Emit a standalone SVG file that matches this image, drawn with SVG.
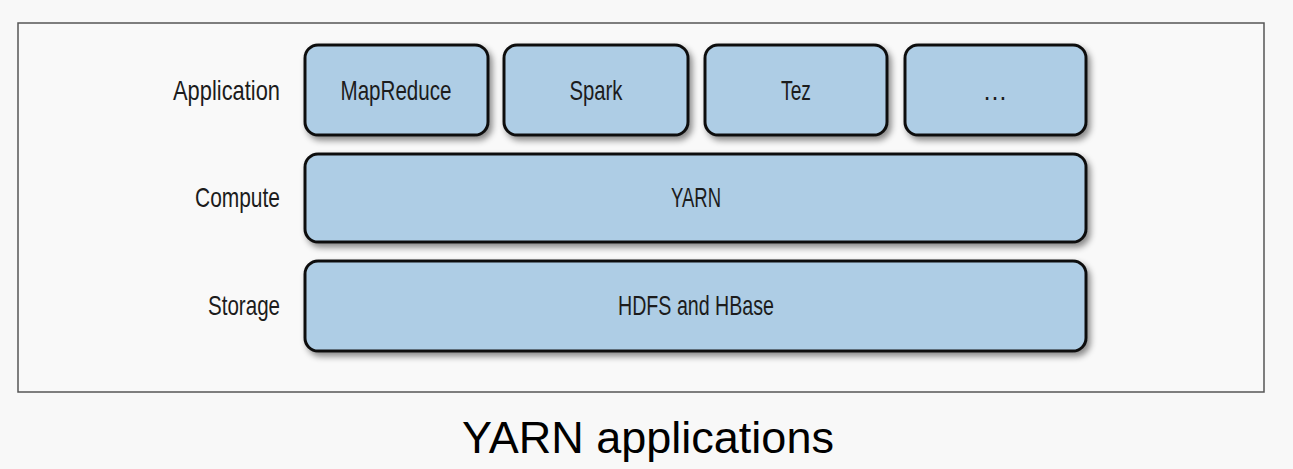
<svg xmlns="http://www.w3.org/2000/svg" width="1293" height="469" viewBox="0 0 1293 469">
<defs>
<filter id="sh" x="-10%" y="-20%" width="130%" height="150%">
<feDropShadow dx="3" dy="4" stdDeviation="3" flood-color="#000" flood-opacity="0.45"/>
</filter>
<style>
.box{fill:#aecde5;stroke:#111;stroke-width:3;filter:url(#sh)}
.t{font-family:"Liberation Sans",Arial,sans-serif;font-size:28px;fill:#1c1c1c;text-anchor:middle}
.l{font-family:"Liberation Sans",Arial,sans-serif;font-size:28px;fill:#1c1c1c;text-anchor:end}
</style>
</defs>
<rect x="0" y="0" width="1293" height="469" fill="#f8f8f8"/>
<rect x="18" y="23" width="1246" height="369" fill="#f9f9f9" stroke="#555" stroke-width="1.5"/>
<g id="labels">
<text class="l" x="280" y="100" textLength="107" lengthAdjust="spacingAndGlyphs">Application</text>
<text class="l" x="280" y="207" textLength="85" lengthAdjust="spacingAndGlyphs">Compute</text>
<text class="l" x="280" y="315" textLength="72" lengthAdjust="spacingAndGlyphs">Storage</text>
</g>
<g id="mapreduce"><rect class="box" x="305" y="45" width="183" height="90" rx="13"/><text class="t" x="396" y="100" textLength="111" lengthAdjust="spacingAndGlyphs">MapReduce</text></g>
<g id="spark"><rect class="box" x="504" y="45" width="184" height="90" rx="13"/><text class="t" x="596" y="100" textLength="53" lengthAdjust="spacingAndGlyphs">Spark</text></g>
<g id="tez"><rect class="box" x="705" y="45" width="182" height="90" rx="13"/><text class="t" x="796" y="100" textLength="30" lengthAdjust="spacingAndGlyphs">Tez</text></g>
<g id="more"><rect class="box" x="905" y="45" width="181" height="90" rx="13"/><text class="t" x="995" y="100" textLength="25" lengthAdjust="spacingAndGlyphs">…</text></g>
<g id="yarn"><rect class="box" x="305" y="154" width="781" height="88" rx="13"/><text class="t" x="696" y="207" textLength="50" lengthAdjust="spacingAndGlyphs">YARN</text></g>
<g id="hdfs"><rect class="box" x="305" y="261" width="781" height="90" rx="13"/><text class="t" x="696" y="315" textLength="156" lengthAdjust="spacingAndGlyphs">HDFS and HBase</text></g>
<g id="connectors"></g>
<text x="648" y="453" font-family="Liberation Sans, Arial, sans-serif" font-size="45" fill="#000" text-anchor="middle">YARN applications</text>
</svg>
